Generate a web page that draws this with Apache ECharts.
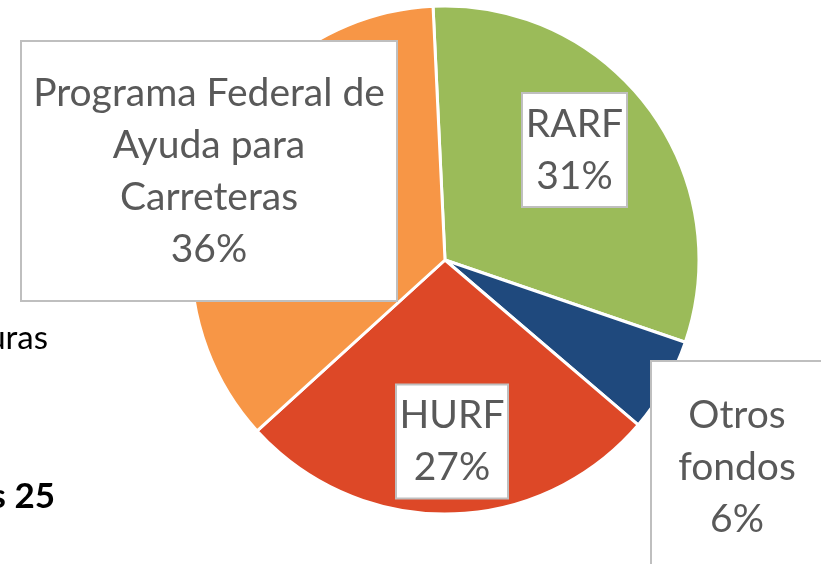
<!DOCTYPE html>
<html>
<head>
<meta charset="utf-8">
<style>
  html, body { margin: 0; padding: 0; background: #ffffff; }
  #chart { width: 821px; height: 564px; }
</style>
<script src="https://cdn.jsdelivr.net/npm/echarts@6/dist/echarts.min.js"></script>
</head>
<body>
<div id="chart"></div>
<script>
// Funding sources, clockwise from twelve o'clock
const categories = ['RARF', 'Otros fondos', 'HURF', 'Programa Federal de Ayuda para Carreteras'];
const labelNames = ['RARF', 'Otros\nfondos', 'HURF', 'Programa Federal de\nAyuda para\nCarreteras'];
const shares = [31, 6, 27, 36];
const sliceColors = ['#9BBB59', '#1F497D', '#DD4827', '#F79646'];

// Label box layout (centre x, centre y, content width, vertical padding)
const labelBoxes = [
  { x: 574.5, y: 150, w: 103, pad: 4 },
  { x: 737, y: 467, w: 170, pad: 27 },
  { x: 452, y: 441.5, w: 110, pad: 4 },
  { x: 209, y: 171, w: 374, pad: 25 }
];

const FONT = 'Lato, "Open Sans", sans-serif';

const chart = echarts.init(document.getElementById('chart'), null, { renderer: 'canvas' });

chart.setOption({
  backgroundColor: '#ffffff',
  animation: false,
  graphic: [
    {
      type: 'text', x: 48, y: 338,
      style: { text: 'uras', fontFamily: FONT, fontSize: 33, fill: '#000000', align: 'right', verticalAlign: 'middle' }
    },
    {
      type: 'text', x: 55, y: 497,
      style: { text: 's 25', fontFamily: FONT, fontSize: 35, fontWeight: 'bold', fill: '#000000', align: 'right', verticalAlign: 'middle' }
    }
  ],
  series: [{
    type: 'pie',
    center: [445, 260],
    radius: 254,
    startAngle: 92.7,
    clockwise: true,
    avoidLabelOverlap: false,
    itemStyle: { borderColor: '#ffffff', borderWidth: 3 },
    labelLine: { show: false },
    label: {
      show: true,
      position: 'inside',
      fontFamily: FONT,
      fontSize: 39,
      lineHeight: 52,
      color: '#595959',
      backgroundColor: '#ffffff',
      borderColor: '#bfbfbf',
      borderWidth: 2,
      align: 'center',
      verticalAlign: 'middle'
    },
    labelLayout: function (params) {
      const b = labelBoxes[params.dataIndex];
      return { x: b.x, y: b.y, align: 'center', verticalAlign: 'middle', hideOverlap: false };
    },
    data: categories.map(function (name, i) {
      const b = labelBoxes[i];
      return {
        name: name,
        value: shares[i],
        itemStyle: { color: sliceColors[i] },
        label: {
          formatter: labelNames[i] + '\n' + shares[i] + '%',
          width: b.w,
          padding: [b.pad, 0, b.pad, 0]
        }
      };
    })
  }]
});
</script>
</body>
</html>
